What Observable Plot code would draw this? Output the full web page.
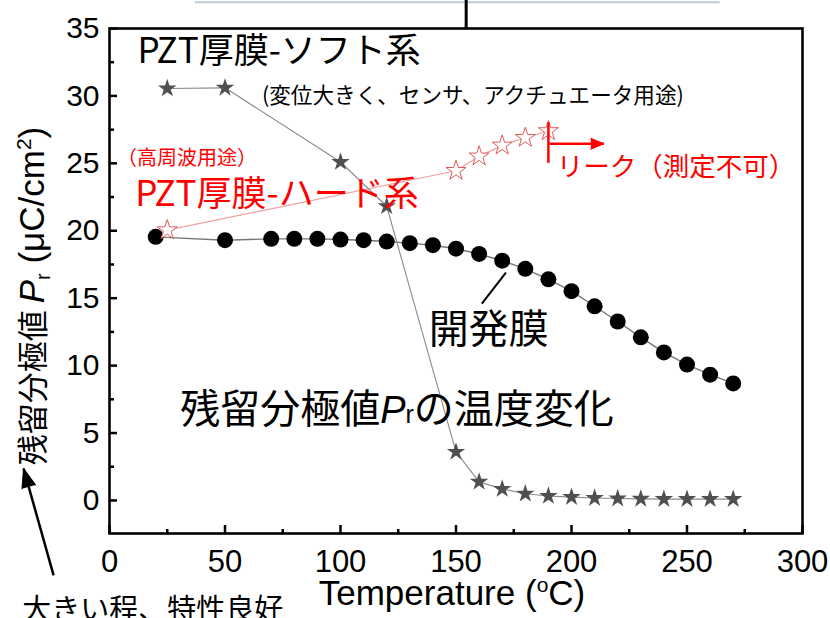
<!DOCTYPE html>
<html><head><meta charset="utf-8">
<script src="https://cdn.jsdelivr.net/npm/d3@7"></script>
<script src="https://cdn.jsdelivr.net/npm/@observablehq/plot@0.6"></script>
<style>html,body{margin:0;padding:0;background:#fff}svg{display:block}</style>
</head><body><div id="chart"></div>
<script>
// ---- data ----
const tempDev = [20,50,70,80,90,100,110,120,130,140,150,160,170,180,190,200,210,220,230,240,250,260,270];
const prDev   = [19.55,19.3,19.4,19.4,19.4,19.35,19.3,19.2,19.08,18.93,18.67,18.28,17.78,17.18,16.4,15.52,14.4,13.27,12.1,10.98,10.08,9.33,8.68];
const tempSoft = [25,50,100,120,150,160,170,180,190,200,210,220,230,240,250,260,270];
const prSoft   = [30.55,30.6,25.1,21.82,3.6,1.38,0.85,0.5,0.33,0.25,0.18,0.14,0.12,0.1,0.1,0.1,0.1];
const tempHard = [25,150,160,170,180,190];
const prHard   = [20.05,24.45,25.52,26.33,26.9,27.4];
const xTicks = [0,50,100,150,200,250,300];
const xMinor = [25,75,125,175,225,275];
const yTicks = [0,5,10,15,20,25,30,35];
const yMinor = [2.5,7.5,12.5,17.5,22.5,27.5,32.5];
// annotations (data units)
const annText = ["PZT厚膜-ソフト系","(変位大きく、センサ、アクチュエータ用途)","（高周波用途）","PZT厚膜-ハード系","リーク（測定不可）","開発膜","残留分極値Prの温度変化","大きい程、特性良好"];
const annTemp = [12.1, 66.0, 3.2, 11.2, 193.6, 138.2, 30.6, -37.8];
const annPr   = [33.25, 30.0, 25.35, 22.7, 24.7, 12.65, 6.7, -8.15];
const leakTemp = 190;
const leakPr = [25.0, 28.0];
const leakArrowTemp = [190.5, 214];
const leakArrowPr = 26.45;
const devLeaderTemp = [161.2, 171.6];
const devLeaderPr = [14.6, 16.9];
const upArrowTemp = [-24.2, -37.2];
const upArrowPr = [-5.56, 2.37];
const topBarTemp = [37.2, 264.3];
const topBarPr = 36.95;
const stemTemp = 154.4;
const stemPr = [35, 37.2];

const JP = "'Noto Sans CJK JP', sans-serif";
const LAT = "'Liberation Sans', Arial, sans-serif";

const devData = tempDev.map((t, i) => ({t, pr: prDev[i]}));
const softData = tempSoft.map((t, i) => ({t, pr: prSoft[i]}));
const hardData = tempHard.map((t, i) => ({t, pr: prHard[i]}));
const ann = (i, o) => Plot.text([{t: annTemp[i], pr: annPr[i], s: annText[i]}], {x: "t", y: "pr", text: "s", textAnchor: "start", lineAnchor: "middle", fontFamily: JP, ...o});

const FW = 693, FH = 505;

const svg = Plot.plot({
  width: 830, height: 618,
  marginLeft: 109, marginRight: 28, marginTop: 28, marginBottom: 85,
  x: {domain: [0, 300]},
  y: {domain: [-2.45, 35]},
  style: {fontFamily: LAT, background: "white", color: "black", overflow: "visible"},
  marks: [
    Plot.ruleY([topBarPr], {x1: topBarTemp[0], x2: topBarTemp[1], stroke: "#b7cdd5", strokeWidth: 2}),
    Plot.ruleX([stemTemp], {y1: stemPr[0], y2: stemPr[1], stroke: "black", strokeWidth: 3}),
    Plot.line(hardData, {x: "t", y: "pr", stroke: "#f0a0a0", strokeWidth: 1.2}),
    Plot.line(devData, {x: "t", y: "pr", stroke: "#777", strokeWidth: 1.4}),
    Plot.line(softData, {x: "t", y: "pr", stroke: "#8a8a8a", strokeWidth: 1.1}),
    Plot.dot(devData, {x: "t", y: "pr", r: 8, fill: "black", stroke: "none"}),
    Plot.dot(hardData, {x: "t", y: "pr", symbol: "star", r: 6.3, fill: "white", stroke: "#e05a5a", strokeWidth: 1}),
    Plot.dot(softData, {x: "t", y: "pr", symbol: "star", r: 5.8, fill: "#505050", stroke: "none"}),
    // inward ticks
    Plot.ruleX(xTicks, {insetTop: FH - 8, stroke: "black", strokeWidth: 2.5}),
    Plot.ruleX(xMinor, {insetTop: FH - 4, stroke: "black", strokeWidth: 2.5}),
    Plot.ruleY(yTicks, {insetRight: FW - 8, stroke: "black", strokeWidth: 2.5}),
    Plot.ruleY(yMinor, {insetRight: FW - 5, stroke: "black", strokeWidth: 2.5}),
    Plot.frame({stroke: "black", strokeWidth: 2.6}),
    Plot.axisX(xTicks, {tickSize: 0, tickPadding: 16, fontSize: 31, fontFamily: LAT, label: null}),
    Plot.axisY(yTicks, {tickSize: 0, tickPadding: 10, fontSize: 30, fontFamily: LAT, label: null}),
    // leak marker
    Plot.ruleX([leakTemp], {y1: leakPr[0], y2: leakPr[1], stroke: "red", strokeWidth: 2.5}),
    Plot.link([0], {x1: leakArrowTemp[0], x2: leakArrowTemp[1], y1: leakArrowPr, y2: leakArrowPr, stroke: "red", strokeWidth: 2.5}),
    Plot.vector([0], {x: leakArrowTemp[1], y: leakArrowPr, rotate: 90, anchor: "end", length: 13, r: 5.5, shape: "spike", fill: "red", stroke: "red", strokeWidth: 1}),
    // leader for development film
    Plot.link([0], {x1: devLeaderTemp[0], y1: devLeaderPr[0], x2: devLeaderTemp[1], y2: devLeaderPr[1], stroke: "black", strokeWidth: 2}),
    // up arrow near y label
    Plot.link([0], {x1: upArrowTemp[0], y1: upArrowPr[0], x2: upArrowTemp[1], y2: upArrowPr[1], stroke: "black", strokeWidth: 2.5}),
    Plot.vector([0], {x: upArrowTemp[1], y: upArrowPr[1], rotate: -15.7, anchor: "end", length: 19, r: 7, shape: "spike", fill: "black", stroke: "black", strokeWidth: 1}),
    // annotations
    ann(0, {fontSize: 35, fill: "black"}),
    ann(1, {fontSize: 21.6, fill: "black"}),
    ann(2, {fontSize: 20, fill: "red"}),
    ann(3, {fontSize: 35, fill: "red"}),
    ann(4, {fontSize: 26.5, fill: "red"}),
    ann(5, {fontSize: 40, fill: "black"}),
    ann(6, {fontSize: 40, fill: "black", className: "ann-pr"}),
    ann(7, {fontSize: 29, fill: "black"}),
    // axis titles
    Plot.text(["Temperature (ºC)"], {frameAnchor: "bottom", textAnchor: "middle", lineAnchor: "middle", dx: -4, dy: 60, fontSize: 35, fontFamily: LAT, className: "xlab"}),
    Plot.text(["残留分極値 Pr (μC/cm2)"], {frameAnchor: "left", textAnchor: "middle", lineAnchor: "middle", rotate: -90, dx: -75, dy: 15, fontSize: 31, fontFamily: JP, className: "ylab"})
  ]
});
document.getElementById("chart").append(svg);

const s = d3.select(svg);
function rich(sel, parts) {
  const t = s.select(sel);
  t.text(null);
  for (const p of parts) {
    const ts = t.append("tspan").text(p.text);
    for (const k in (p.attr || {})) ts.attr(k, p.attr[k]);
  }
}
rich("g.ann-pr text", [
  {text: "残留分極値"},
  {text: "P", attr: {"font-family": LAT, "font-style": "italic", "font-size": 38}},
  {text: "r", attr: {"font-family": LAT, "font-size": 25}},
  {text: "の温度変化"}
]);
rich("g.xlab text", [
  {text: "Temperature ("},
  {text: "o", attr: {"font-size": 21, dy: -13}},
  {text: "C)", attr: {dy: 13}}
]);
rich("g.ylab text", [
  {text: "残留分極値 "},
  {text: "P", attr: {"font-family": LAT, "font-style": "italic", "font-size": 35}},
  {text: "r", attr: {"font-family": LAT, "font-size": 20, dy: 6}},
  {text: " (μC/cm", attr: {"font-family": LAT, "font-size": 35, dy: -6}},
  {text: "2", attr: {"font-family": LAT, "font-size": 21, dy: -13}},
  {text: ")", attr: {"font-family": LAT, "font-size": 35, dy: 13}}
]);
</script>
</body></html>
